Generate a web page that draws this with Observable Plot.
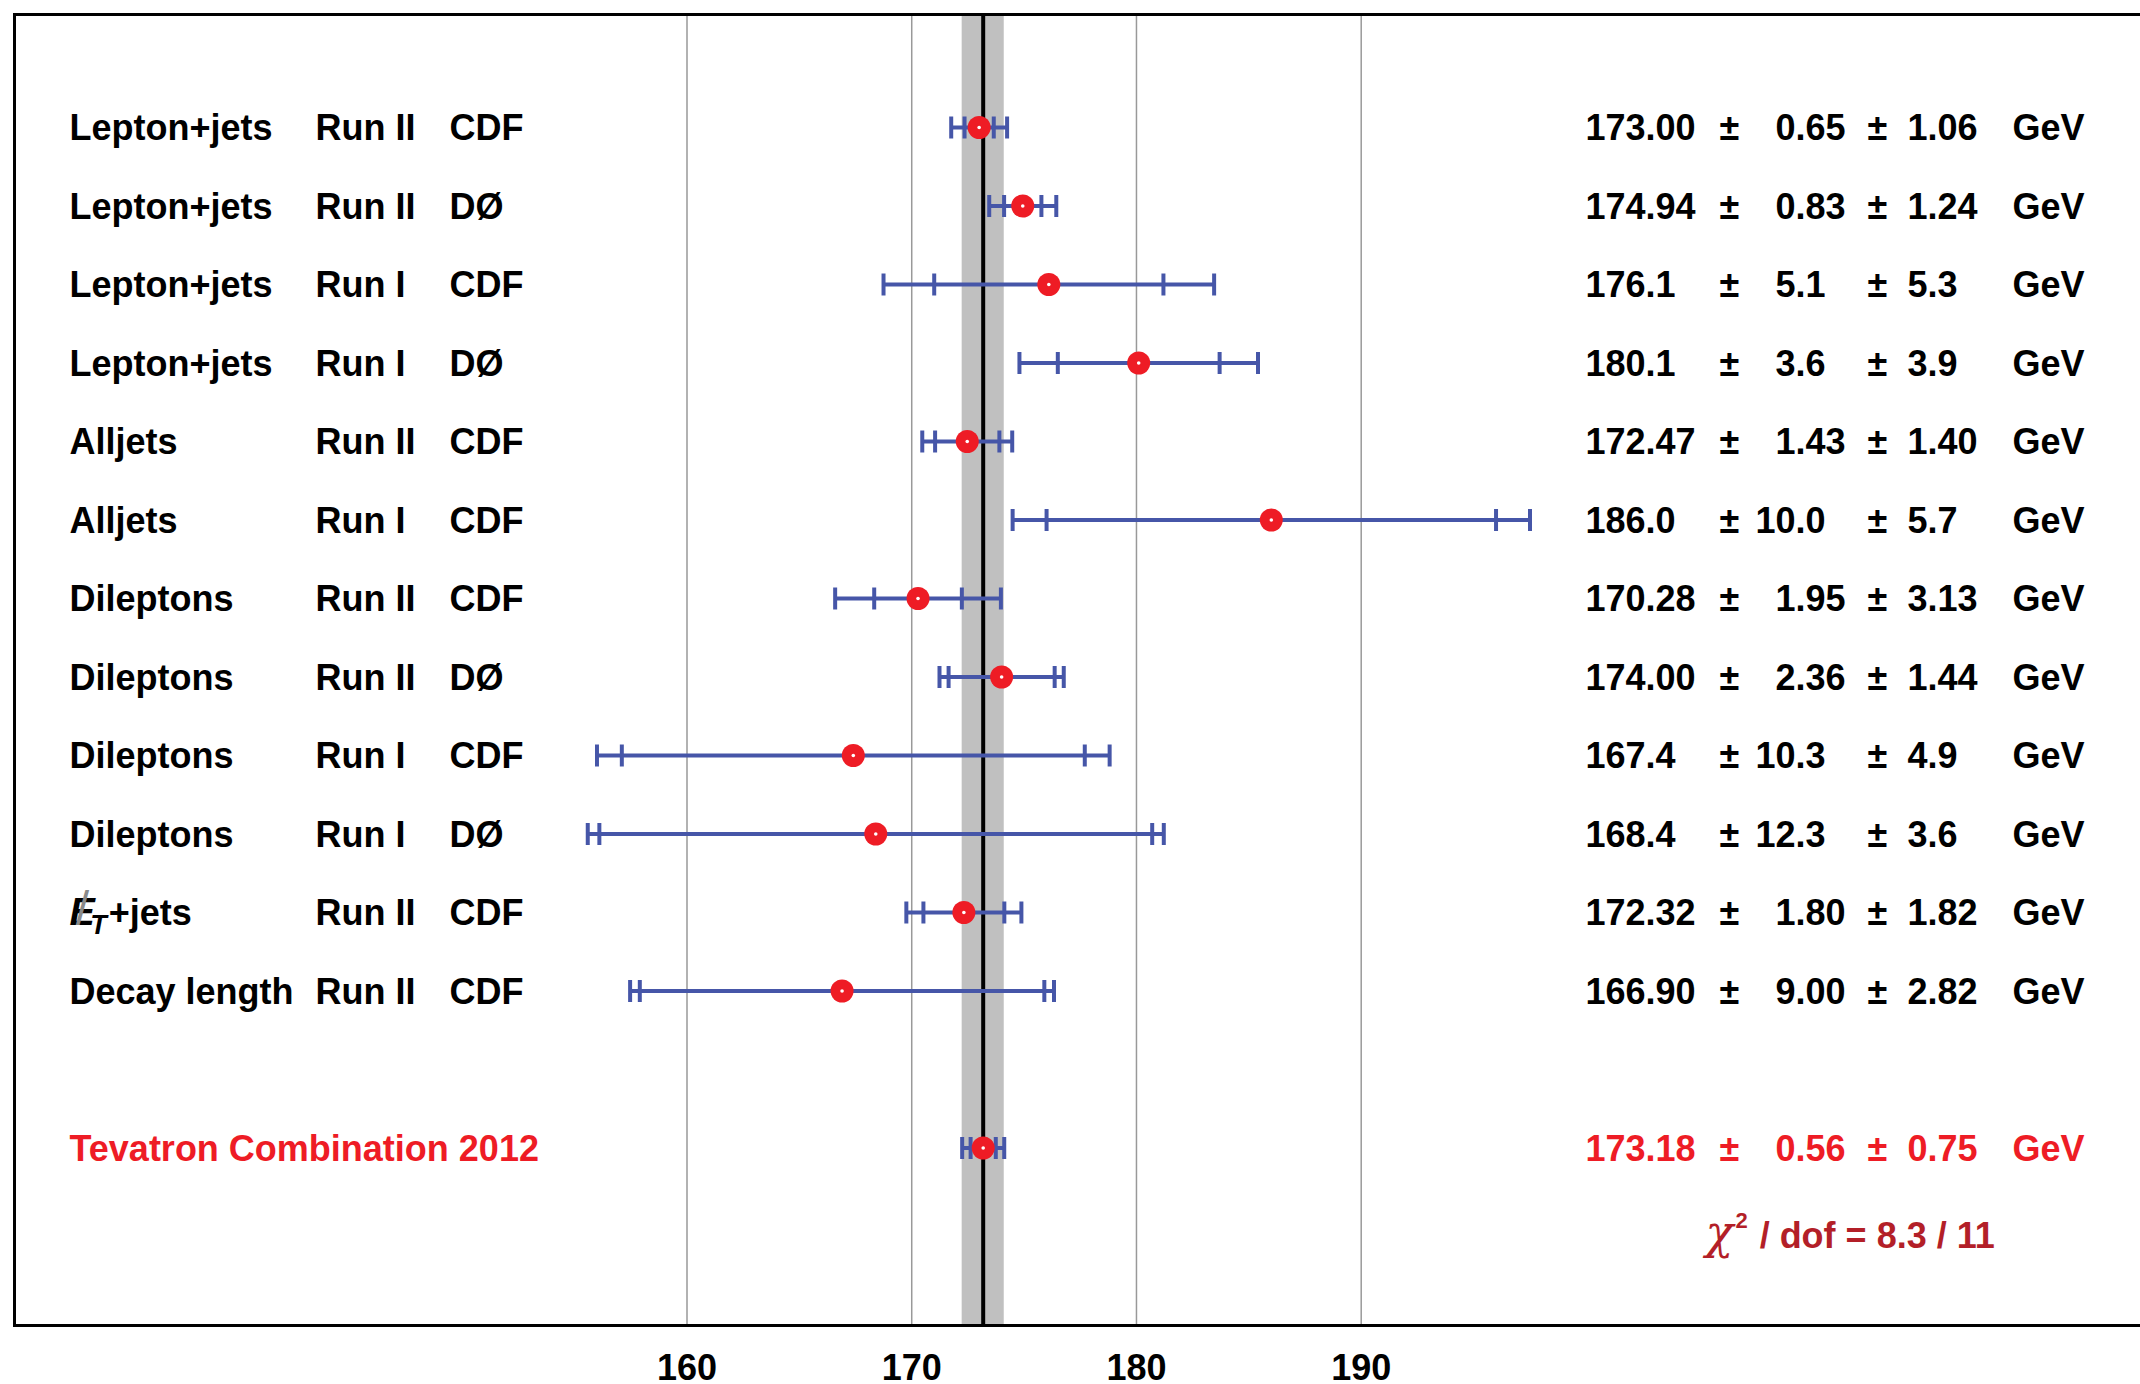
<!DOCTYPE html>
<html><head><meta charset="utf-8">
<script src="https://cdn.jsdelivr.net/npm/d3@7"></script>
<script src="https://cdn.jsdelivr.net/npm/@observablehq/plot@0.6"></script>
<style>body{margin:0;background:#fff;}</style>
</head><body><div id="chart"></div>
<script>
// ---- data ----
const channels = ["Lepton+jets","Lepton+jets","Lepton+jets","Lepton+jets","Alljets","Alljets","Dileptons","Dileptons","Dileptons","Dileptons","MET+jets","Decay length"];
const runs = ["Run II","Run II","Run I","Run I","Run II","Run I","Run II","Run II","Run I","Run I","Run II","Run II"];
const experiments = ["CDF","DØ","CDF","DØ","CDF","CDF","CDF","DØ","CDF","DØ","CDF","CDF"];
const massText = ["173.00","174.94","176.1","180.1","172.47","186.0","170.28","174.00","167.4","168.4","172.32","166.90"];
const statText = ["0.65","0.83","5.1","3.6","1.43","10.0","1.95","2.36","10.3","12.3","1.80","9.00"];
const systText = ["1.06","1.24","5.3","3.9","1.40","5.7","3.13","1.44","4.9","3.6","1.82","2.82"];
const comboLabel = "Tevatron Combination 2012";
const comboMassText = "173.18", comboStatText = "0.56", comboSystText = "0.75";
const comboRow = 13;
const chiLabel = "CHI2 / dof = 8.3 / 11";
const chiRow = 14.12;
const xTicks = [160, 170, 180, 190];
const unit = "GeV";

// ---- table ----
const BLACK = "#000", RED = "#ee1c25", DARKRED = "#b31f28", BLUE = "#4656a8";
const rows = channels.map((c, i) => ({
  row: i, channel: c, run: runs[i], exp: experiments[i],
  m: +massText[i], stat: +statText[i], syst: +systText[i],
  mText: massText[i], sText: statText[i], yText: systText[i], color: BLACK
}));
rows.push({row: comboRow, channel: comboLabel, run: "", exp: "",
  m: +comboMassText, stat: +comboStatText, syst: +comboSystText,
  mText: comboMassText, sText: comboStatText, yText: comboSystText, color: RED});
rows.forEach(d => d.tot = Math.hypot(d.stat, d.syst));
const combo = rows[rows.length - 1];

const capPoints = rows.flatMap(d => [
  {row: d.row, x: d.m - d.stat}, {row: d.row, x: d.m + d.stat},
  {row: d.row, x: d.m - d.tot},  {row: d.row, x: d.m + d.tot}
]);

const vbar = {draw(ctx, size) { const h = Math.sqrt(size / Math.PI); ctx.moveTo(0, -h); ctx.lineTo(0, h); }};
const intPart = s => s.split(".")[0];
const fracPart = s => "." + s.split(".")[1];

const FS = 36;
const txt = (data, text, dx, extra = {}) => Plot.text(data, {
  y: "row", text, frameAnchor: "left", textAnchor: "start", dx, dy: 1,
  fontSize: FS, fontWeight: "bold", fill: "color", lineAnchor: "middle", ...extra
});

const chart = Plot.plot({
  width: 2140, height: 1384,
  marginTop: 14, marginBottom: 59, marginLeft: 14, marginRight: -20,
  style: {fontFamily: "'Liberation Sans', Arial, Helvetica, sans-serif", background: "#fff", color: "#000"},
  x: {domain: [160, 190], range: [686.5, 1360.7]},
  y: {domain: [0, 13], range: [127, 1147.5], axis: null},
  color: {type: "identity"},
  marks: [
    Plot.rect([combo], {x1: d => d.m - d.tot, x2: d => d.m + d.tot, fill: "#c0c0c0"}),
    Plot.ruleX(xTicks, {stroke: "#999", strokeWidth: 1.5}),
    Plot.ruleX([combo], {x: "m", stroke: "#000", strokeWidth: 4}),
    Plot.frame({stroke: "#000", strokeWidth: 3}),
    Plot.axisX({ticks: xTicks, tickSize: 0, tickPadding: 29, fontSize: FS, fontWeight: "bold", label: null, anchor: "bottom"}),
    Plot.ruleY(rows, {y: "row", x1: d => d.m - d.tot, x2: d => d.m + d.tot, stroke: BLUE, strokeWidth: 4}),
    Plot.dot(capPoints, {x: "x", y: "row", r: 11, symbol: vbar, stroke: BLUE, strokeWidth: 4, fill: "none"}),
    Plot.dot(rows, {x: "m", y: "row", r: 11.5, fill: RED}),
    Plot.dot(rows, {x: "m", y: "row", r: 1.8, fill: "#fff"}),
    // left labels
    txt(rows, "channel", 55),
    txt(rows, "run", 301),
    txt(rows, "exp", 435),
    // right values
    txt(rows, "mText", 1571),
    txt(rows, () => "±", 1705),
    txt(rows, d => intPart(d.sText), 1781, {textAnchor: "end"}),
    txt(rows, d => fracPart(d.sText), 1781),
    txt(rows, () => "±", 1853),
    txt(rows, d => intPart(d.yText), 1913, {textAnchor: "end"}),
    txt(rows, d => fracPart(d.yText), 1913),
    txt(rows, () => unit, 1998),
    Plot.text([chiLabel], {y: () => chiRow, text: d => d, frameAnchor: "left", textAnchor: "start", dx: 1691, dy: 1,
      fontSize: FS, fontWeight: "bold", fill: DARKRED, lineAnchor: "middle"})
  ]
});

// rich text fix-ups
d3.select(chart).selectAll("text").each(function() {
  const t = d3.select(this);
  if (this.textContent === "MET+jets") {
    t.text(null);
    t.append("tspan").attr("font-style", "italic").attr("font-size", 38).text("E");
    t.append("tspan").attr("dx", -19).attr("fill", "#8a8a8a").attr("font-size", 48).attr("font-weight", "normal").text("/");
    t.append("tspan").attr("dx", 1).attr("dy", 9).attr("font-style", "italic").attr("font-size", 27).text("T");
    t.append("tspan").attr("dx", 2).attr("dy", -9).text("+jets");
  } else if (this.textContent === chiLabel) {
    t.text(null);
    t.append("tspan").attr("font-style", "italic").attr("font-size", 46).attr("font-weight", "normal").attr("font-family", "'DejaVu Serif', serif").text("χ");
    t.append("tspan").attr("dx", 2).attr("dy", -20).attr("font-size", 22).text("2");
    t.append("tspan").attr("dy", 20).attr("dx", 12).text("/ dof = 8.3 / 11");
  }
});

document.getElementById("chart").appendChild(chart);
</script>
</body></html>
